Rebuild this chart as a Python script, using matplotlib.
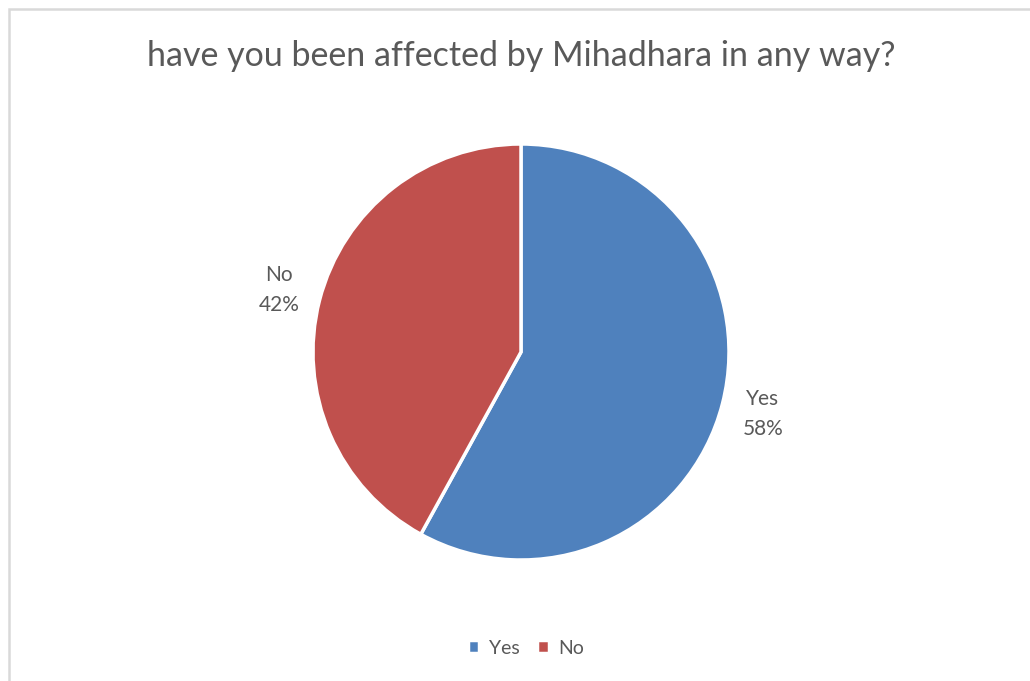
import matplotlib.pyplot as plt
from matplotlib.patches import Rectangle

categories = ["Yes", "No"]
values = [58, 42]
colors = ["#4F81BD", "#C0504D"]
title = "have you been affected by Mihadhara in any way?"

plt.rcParams['font.family'] = ['Lato', 'DejaVu Sans']
text_color = "#595959"

fig = plt.figure(figsize=(10.30, 6.81), dpi=100)

# light grey chart frame
fig.patches.append(Rectangle((9 / 1030, -0.05), 1.1, 1 - 9 / 681 + 0.05, transform=fig.transFigure,
                             fill=False, edgecolor="#D9D9D9", linewidth=1.8))

ax = fig.add_axes([313 / 1030, 121 / 681, 416 / 1030, 416 / 681])
labels = ["%s\n%d%%" % (c, v) for c, v in zip(categories, values)]
wedges, texts = ax.pie(values, colors=colors, startangle=90, counterclock=False,
                       labels=labels, labeldistance=1.2,
                       wedgeprops=dict(edgecolor="white", linewidth=2.5),
                       textprops=dict(color=text_color, fontsize=15, ha="center", va="center",
                                      linespacing=1.6))
ax.set_xlim(-1, 1)
ax.set_ylim(-1, 1)
ax.set_aspect("equal")

fig.text(521 / 1030, 1 - 56 / 681, title, ha="center", va="center", fontsize=24.5, color=text_color)

fig.legend(wedges, categories, loc="center", bbox_to_anchor=(526 / 1030, 1 - 648 / 681),
           ncol=2, frameon=False, fontsize=14, labelcolor=text_color,
           handlelength=0.6, handleheight=0.6, handletextpad=0.5, columnspacing=0.9)

fig.savefig("out.png", dpi=100)
